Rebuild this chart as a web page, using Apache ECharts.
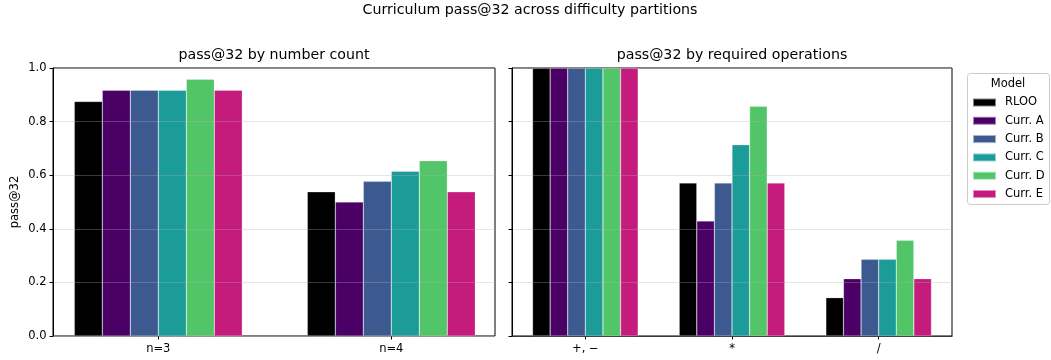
<!DOCTYPE html>
<html><head><meta charset="utf-8">
<script src="https://cdn.jsdelivr.net/npm/echarts@6/dist/echarts.min.js"></script>
<style>html,body{margin:0;padding:0;background:#fff}#c{width:1051px;height:360px}</style>
</head><body><div id="c"></div>
<script>
const models = ['RLOO','Curr. A','Curr. B','Curr. C','Curr. D','Curr. E'];
const colors = ['#000000','#4b0066','#3d5a90','#1c9c98','#52c569','#c51b7d'];
const leftCats = ['n=3','n=4'];
const rightCats = ['+, \u2212','*','/'];
const yTicks = [0,0.2,0.4,0.6,0.8,1.0];
// values per model: [n=3, n=4]
const leftRLOO = [0.875, 0.538];
const leftA = [0.917, 0.500];
const leftB = [0.917, 0.577];
const leftC = [0.917, 0.615];
const leftD = [0.958, 0.654];
const leftE = [0.917, 0.538];
// values per model: [+,-  *  /]
const rightRLOO = [1.0, 0.571, 0.143];
const rightA = [1.0, 0.429, 0.214];
const rightB = [1.0, 0.571, 0.286];
const rightC = [1.0, 0.714, 0.286];
const rightD = [1.0, 0.857, 0.357];
const rightE = [1.0, 0.571, 0.214];
const leftVals = [leftRLOO,leftA,leftB,leftC,leftD,leftE];
const rightVals = [rightRLOO,rightA,rightB,rightC,rightD,rightE];

const FF = 'DejaVu Sans';
const chart = echarts.init(document.getElementById('c'));
const splitLine = {show:true, lineStyle:{color:'rgba(176,176,176,0.32)', width:1}};
const series = [];
models.forEach((m,i)=>{
  series.push({name:m, type:'bar', xAxisIndex:1, yAxisIndex:1, data:leftVals[i], barWidth:28, barGap:'0%',
    itemStyle:{color:colors[i], borderColor:'rgba(255,255,255,0.5)', borderWidth:0.5}});
});
models.forEach((m,i)=>{
  series.push({name:m, type:'bar', xAxisIndex:2, yAxisIndex:2, data:rightVals[i], barWidth:17.6, barGap:'0%',
    itemStyle:{color:colors[i], borderColor:'rgba(255,255,255,0.5)', borderWidth:0.5}});
});
const tickLabel = {color:'#000', fontSize:11.5, fontFamily:FF};
const titleStyle = {fontSize:14.2, fontWeight:'normal', color:'#000', fontFamily:FF};
chart.setOption({
  animation:false,
  textStyle:{fontFamily:FF},
  title:[
    {text:'Curriculum pass@32 across difficulty partitions', left:530, top:3, textAlign:'center', padding:0, textStyle:titleStyle},
    {text:'pass@32 by number count', left:274, top:48, textAlign:'center', padding:0, textStyle:titleStyle},
    {text:'pass@32 by required operations', left:732, top:48, textAlign:'center', padding:0, textStyle:titleStyle}
  ],
  grid:[
    {left:53, top:68, width:442, height:268, show:true, borderColor:'#000', borderWidth:1, backgroundColor:'transparent'},
    {left:41.8, top:68, width:466, height:268},
    {left:512, top:68, width:440, height:268, show:true, borderColor:'#000', borderWidth:1, backgroundColor:'transparent'}
  ],
  xAxis:[
    {gridIndex:0, type:'value', min:0, max:1, show:false},
    {gridIndex:1, type:'category', data:leftCats, axisLine:{show:false},
     axisTick:{show:true, alignWithLabel:true, length:3.5, lineStyle:{color:'#000'}},
     axisLabel:{...tickLabel, margin:7.5}},
    {gridIndex:2, type:'category', data:rightCats, axisLine:{show:true, lineStyle:{color:'#000'}},
     axisTick:{show:true, alignWithLabel:true, length:3.5, lineStyle:{color:'#000'}},
     axisLabel:{...tickLabel, margin:7.5}}
  ],
  yAxis:[
    {gridIndex:0, type:'value', min:0, max:1, interval:0.2, z:3,
     name:'pass@32', nameLocation:'middle', nameGap:32, nameRotate:90,
     nameTextStyle:{color:'#000', fontSize:11.5, fontFamily:FF},
     axisLine:{show:true, lineStyle:{color:'#000'}},
     axisTick:{show:true, length:3.5, lineStyle:{color:'#000'}},
     axisLabel:{...tickLabel, margin:6.5, formatter:v=>v.toFixed(1)},
     splitLine:splitLine},
    {gridIndex:1, type:'value', min:0, max:1, show:false},
    {gridIndex:2, type:'value', min:0, max:1, interval:0.2, z:3,
     axisLine:{show:true, lineStyle:{color:'#000'}},
     axisTick:{show:true, length:3.5, lineStyle:{color:'#000'}},
     axisLabel:{show:false},
     splitLine:splitLine}
  ],
  legend:{orient:'vertical', left:972, top:96, data:models, icon:'rect', itemWidth:23, itemHeight:8,
    itemGap:5.3, padding:0,
    textStyle:{color:'#000', fontSize:11.5, fontFamily:FF, lineHeight:13, padding:[0,0,0,4]}},
  graphic:[
    {type:'rect', shape:{x:967.5, y:73.5, width:82, height:131, r:3}, z:-1,
     style:{fill:'rgba(255,255,255,0.8)', stroke:'#cccccc', lineWidth:1}},
    {type:'text', x:1008, y:84.5, style:{text:'Model', fill:'#000', font:'11.5px "DejaVu Sans"', textAlign:'center', textVerticalAlign:'middle'}}
  ],
  series:series
});
</script></body></html>
